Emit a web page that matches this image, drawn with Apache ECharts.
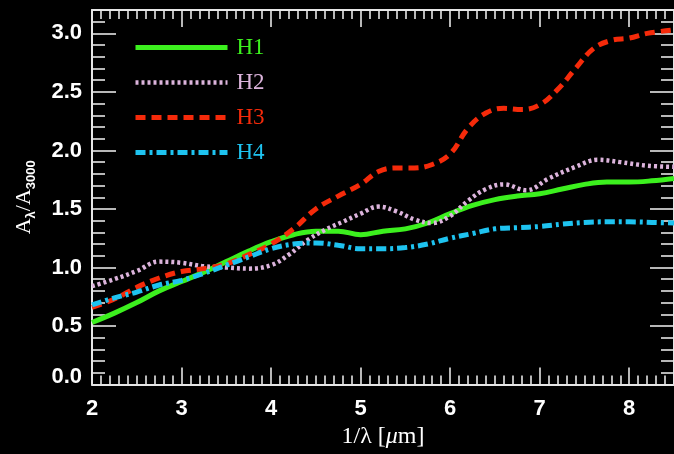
<!DOCTYPE html>
<html>
<head>
<meta charset="utf-8">
<script src="https://cdn.jsdelivr.net/npm/echarts@6/dist/echarts.min.js"></script>
<style>
html,body{margin:0;padding:0;background:#000;}
#chart{width:674px;height:454px;}
</style>
</head>
<body>
<div id="chart"></div>
<script>
// ---- data ----
const seriesNames = ['H1', 'H2', 'H3', 'H4'];
const seriesColors = ['#3cf01e', '#dcb4dc', '#f52a0a', '#1ec3f0'];

const xH1 = [2.0, 2.25, 2.5, 2.75, 3.0, 3.25, 3.5, 3.75, 4.0, 4.25, 4.5, 4.75, 5.0, 5.25, 5.5, 5.75, 6.0, 6.25, 6.5, 6.75, 7.0, 7.25, 7.5, 7.75, 8.0, 8.25, 8.5];
const yH1 = [0.53, 0.61, 0.70, 0.80, 0.88, 0.96, 1.05, 1.14, 1.22, 1.28, 1.31, 1.31, 1.28, 1.31, 1.33, 1.38, 1.46, 1.53, 1.58, 1.61, 1.63, 1.67, 1.71, 1.73, 1.73, 1.74, 1.76];

const xH2 = [2.0, 2.25, 2.5, 2.75, 3.0, 3.25, 3.5, 3.75, 4.0, 4.2, 4.4, 4.6, 4.8, 5.0, 5.2, 5.4, 5.6, 5.8, 6.0, 6.2, 6.4, 6.6, 6.85, 7.1, 7.4, 7.65, 7.9, 8.2, 8.5];
const yH2 = [0.84, 0.90, 0.97, 1.05, 1.04, 1.01, 1.00, 0.99, 1.02, 1.11, 1.23, 1.32, 1.39, 1.46, 1.52, 1.48, 1.41, 1.38, 1.44, 1.57, 1.67, 1.71, 1.66, 1.76, 1.86, 1.92, 1.90, 1.87, 1.86];

const xH3 = [2.0, 2.25, 2.5, 2.75, 3.0, 3.25, 3.5, 3.75, 4.0, 4.25, 4.5, 4.75, 5.0, 5.2, 5.4, 5.6, 5.8, 6.0, 6.2, 6.4, 6.6, 6.8, 7.0, 7.2, 7.4, 7.6, 7.8, 8.0, 8.2, 8.5];
const yH3 = [0.66, 0.73, 0.83, 0.91, 0.965, 0.99, 1.03, 1.11, 1.20, 1.33, 1.50, 1.61, 1.71, 1.82, 1.85, 1.85, 1.88, 1.97, 2.19, 2.32, 2.36, 2.35, 2.39, 2.52, 2.70, 2.87, 2.94, 2.96, 3.00, 3.03];

const xH4 = [2.0, 2.25, 2.5, 2.75, 3.0, 3.25, 3.5, 3.75, 4.0, 4.25, 4.5, 4.75, 5.0, 5.25, 5.5, 5.75, 6.0, 6.25, 6.5, 6.75, 7.0, 7.25, 7.5, 7.75, 8.0, 8.25, 8.5];
const yH4 = [0.68, 0.74, 0.79, 0.85, 0.89, 0.95, 1.02, 1.09, 1.16, 1.20, 1.21, 1.19, 1.16, 1.16, 1.17, 1.20, 1.25, 1.29, 1.33, 1.34, 1.35, 1.37, 1.385, 1.39, 1.39, 1.385, 1.38];

const xRange = [2, 8.5];
const yRange = [0, 3.2];
const xTickStep = 1;
const yTickStep = 0.5;

// ---- chart ----
const pairs = (xs, ys) => xs.map((x, i) => [x, ys[i]]);
const seriesData = [pairs(xH1, yH1), pairs(xH2, yH2), pairs(xH3, yH3), pairs(xH4, yH4)];
const lineTypes = ['solid', [3, 3], [10, 6], [10, 4, 3, 4]];
const lineWidths = [5, 4.5, 5, 5];

const axisColor = '#e6e6e6';
const labelFont = { color: '#ffffff', fontFamily: 'Liberation Sans', fontWeight: 'bold', fontSize: 22 };

function xAxisCfg(position, showLabels, extra) {
  return Object.assign({
    type: 'value', position: position,
    min: xRange[0], max: xRange[1], interval: xTickStep,
    axisLine: { show: true, onZero: false, lineStyle: { color: axisColor, width: 2 } },
    axisTick: { show: true, inside: true, length: 17, lineStyle: { color: axisColor, width: 1.6 } },
    minorTick: { show: true, splitNumber: 10, length: 9, lineStyle: { color: axisColor, width: 1.6 } },
    splitLine: { show: false },
    axisLabel: Object.assign({ show: showLabels, margin: 13, showMaxLabel: false,
      formatter: v => String(v) }, labelFont)
  }, extra || {});
}
function yAxisCfg(position, showLabels, extra) {
  return Object.assign({
    type: 'value', position: position,
    min: yRange[0], max: yRange[1], interval: yTickStep,
    axisLine: { show: true, onZero: false, lineStyle: { color: axisColor, width: 2 } },
    axisTick: { show: true, inside: true, length: 24, lineStyle: { color: axisColor, width: 1.6 } },
    minorTick: { show: true, splitNumber: 5, length: 13, lineStyle: { color: axisColor, width: 1.6 } },
    splitLine: { show: false },
    axisLabel: Object.assign({ show: showLabels, margin: 10, showMaxLabel: false,
      formatter: v => (v === 0 ? '{m|0.0}' : v.toFixed(1)),
      rich: { m: Object.assign({ padding: [0, 0, 15, 0] }, labelFont) } }, labelFont)
  }, extra || {});
}

const chart = echarts.init(document.getElementById('chart'), null, { renderer: 'canvas' });
chart.setOption({
  animation: false,
  backgroundColor: '#000000',
  grid: { left: 92, top: 10, width: 586, height: 374.5, containLabel: false },
  legend: {
    orient: 'vertical', left: 128, top: 31,
    itemWidth: 92, itemHeight: 14, itemGap: 12,
    lineStyle: { width: 'inherit' },
    itemStyle: { opacity: 0, borderWidth: 0 },
    data: seriesNames.map((n, i) => ({ name: n, textStyle: { color: seriesColors[i] } })),
    textStyle: { fontFamily: 'Liberation Serif', fontSize: 23, padding: [0, 0, 0, 4] }
  },
  xAxis: [
    xAxisCfg('bottom', true, {
      name: '1/λ [{i|μ}m]', nameLocation: 'middle', nameGap: 37,
      nameTextStyle: { color: '#ffffff', fontFamily: 'Liberation Serif', fontSize: 24,
        rich: { i: { fontStyle: 'italic', color: '#ffffff', fontFamily: 'Liberation Serif', fontSize: 24 } } }
    }),
    xAxisCfg('top', false)
  ],
  yAxis: [
    yAxisCfg('left', true, {
      name: '{a|A}{s|λ}{a|/A}{s|3000}', nameLocation: 'middle', nameGap: 54,
      nameTextStyle: { color: '#ffffff',
        rich: {
          a: { fontFamily: 'Liberation Serif', fontSize: 22, color: '#ffffff', lineHeight: 28 },
          s: { fontFamily: 'Liberation Sans', fontWeight: 'bold', fontSize: 13, color: '#ffffff', verticalAlign: 'bottom', lineHeight: 28 }
        } }
    }),
    yAxisCfg('right', false)
  ],
  series: seriesNames.map((n, i) => ({
    name: n, type: 'line', xAxisIndex: 0, yAxisIndex: 0,
    data: seriesData[i], smooth: 0.4, symbol: 'none', showSymbol: false,
    lineStyle: { color: seriesColors[i], width: lineWidths[i], type: lineTypes[i], cap: 'butt' },
    itemStyle: { color: seriesColors[i] },
    z: 2 + i
  }))
});
</script>
</body>
</html>
